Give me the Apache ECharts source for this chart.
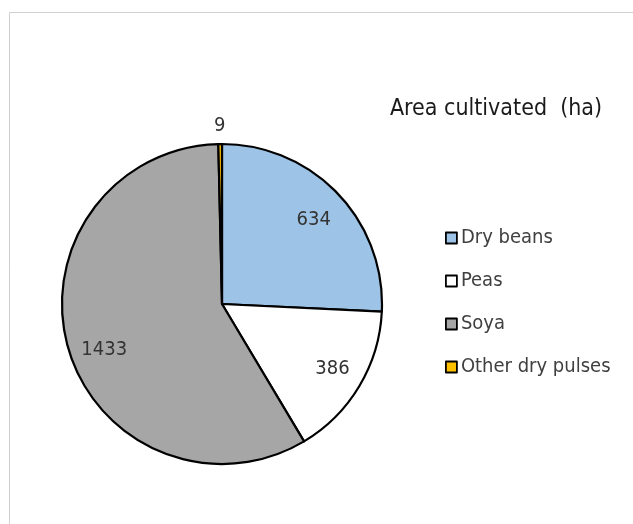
<!DOCTYPE html>
<html><head><meta charset="utf-8">
<script src="https://cdn.jsdelivr.net/npm/echarts@6/dist/echarts.min.js"></script>
<style>html,body{margin:0;padding:0;background:#fff}#c{width:633px;height:524px}</style>
</head><body><div id="c"></div>
<script>
const categories = ['Dry beans', 'Peas', 'Soya', 'Other dry pulses'];
const values = [634, 386, 1433, 9];
const colors = ['#9DC3E6', '#FFFFFF', '#A6A6A6', '#FFC000'];
const labelRadiusFactor = [1.56, 1.86, 1.64, 2.26];
const labelShift = [[-2, 5], [-22, -15], [13, 8], [0, 9]];
const titleText = 'Area cultivated  (ha)';

const FONT = '"Liberation Sans Narrow", "DejaVu Sans Condensed", sans-serif';
const CX = 222, CY = 304, R = 160;
const chart = echarts.init(document.getElementById('c'));
chart.setOption({
  backgroundColor: '#fff',
  animation: false,
  title: { text: titleText, left: 491, top: 93, textAlign: 'center',
    textStyle: { fontFamily: FONT, fontSize: 23, fontWeight: 'normal', color: '#1a1a1a' } },
  legend: {
    orient: 'vertical', left: 440, top: 223, itemGap: 23, icon: 'rect',
    itemWidth: 11, itemHeight: 11, itemStyle: { borderColor: '#000', borderWidth: 1.8 },
    textStyle: { fontFamily: FONT, fontSize: 20, color: '#404040', padding: [0, 0, 0, -1] },
    data: categories
  },
  graphic: [
    { type: 'line', shape: { x1: 9.5, y1: 12.5, x2: 633, y2: 12.5 }, style: { stroke: '#d0d0d0', lineWidth: 1 } },
    { type: 'line', shape: { x1: 9.5, y1: 12.5, x2: 9.5, y2: 524 }, style: { stroke: '#d0d0d0', lineWidth: 1 } }
  ],
  series: [{
    type: 'pie', center: [CX, CY], radius: [0, R], startAngle: 90, clockwise: true,
    itemStyle: { borderColor: '#000', borderWidth: 2.2 },
    label: { show: true, position: 'inside', fontFamily: FONT, fontSize: 20, color: '#333', formatter: '{c}' },
    labelLine: { show: false },
    labelLayout: function (p) {
      const r = p.labelRect;
      const cx = r.x + r.width / 2, cy = r.y + r.height / 2;
      const f = labelRadiusFactor[p.dataIndex];
      const s = labelShift[p.dataIndex];
      return { x: CX + (cx - CX) * f + s[0], y: CY + (cy - CY) * f + s[1], align: 'center', verticalAlign: 'middle' };
    },
    data: categories.map((n, i) => ({ name: n, value: values[i], itemStyle: { color: colors[i] } }))
  }]
});
</script></body></html>
